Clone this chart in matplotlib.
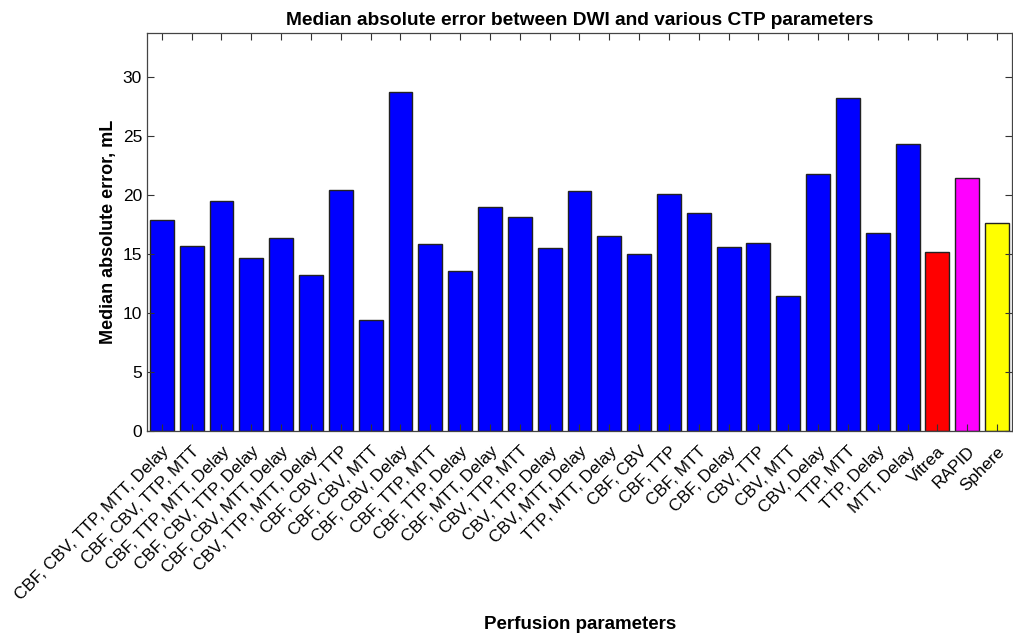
import matplotlib
matplotlib.use("Agg")
import matplotlib.pyplot as plt
import numpy as np

plt.rcParams['font.family'] = ['Liberation Sans', 'DejaVu Sans']

# Perfusion parameter combinations and median absolute error (mL)
labels = ["CBF, CBV, TTP, MTT, Delay", "CBF, CBV, TTP, MTT", "CBF, TTP, MTT, Delay",
          "CBF, CBV, TTP, Delay", "CBF, CBV, MTT, Delay", "CBV, TTP, MTT, Delay",
          "CBF, CBV, TTP", "CBF, CBV, MTT", "CBF, CBV, Delay", "CBF, TTP, MTT",
          "CBF, TTP, Delay", "CBF, MTT, Delay", "CBV, TTP, MTT", "CBV, TTP, Delay",
          "CBV, MTT, Delay", "TTP, MTT, Delay", "CBF, CBV", "CBF, TTP", "CBF, MTT",
          "CBF, Delay", "CBV, TTP", "CBV, MTT", "CBV, Delay", "TTP, MTT",
          "TTP, Delay", "MTT, Delay", "Vitrea", "RAPID", "Sphere"]

errors = [17.9, 15.7, 19.5, 14.7, 16.4, 13.2, 20.4, 9.45, 28.75, 15.85,
          13.55, 19.0, 18.1, 15.5, 20.35, 16.5, 15.0, 20.05, 18.5,
          15.6, 15.95, 11.45, 21.75, 28.25, 16.8, 24.3, 15.2, 21.45, 17.65]

colors = ["blue"] * 26 + ["red", "magenta", "yellow"]

fig = plt.figure(figsize=(10.13, 6.37), dpi=100)
ax = fig.add_axes([0.145, 0.323, 0.854, 0.625])

x = np.arange(1, len(labels) + 1)
ax.bar(x, errors, width=0.8, color=colors, edgecolor="#222222", linewidth=1.0)

ax.set_xlim(0.5, len(labels) + 0.5)
ax.set_ylim(0, 33.7)
ax.set_yticks([0, 5, 10, 15, 20, 25, 30])
ax.set_xticks(x)
ax.set_xticklabels(labels, rotation=45, ha="right", rotation_mode="anchor", fontsize=12.3)

ax.tick_params(direction="in", top=True, right=True, length=5, width=0.8,
               colors="#333333", labelcolor="black")
ax.tick_params(axis="x", pad=9)
ax.tick_params(axis="y", labelsize=12.5)
for s in ax.spines.values():
    s.set_color("#444444")
    s.set_linewidth(0.9)

ax.set_title("Median absolute error between DWI and various CTP parameters",
             fontsize=13.8, fontweight="bold", pad=6)
ax.set_ylabel("Median absolute error, mL", fontsize=13, fontweight="bold")
fig.text(0.573, 0.012, "Perfusion parameters", fontsize=13.5, fontweight="bold", ha="center")

fig.savefig("out.png", dpi=100)
